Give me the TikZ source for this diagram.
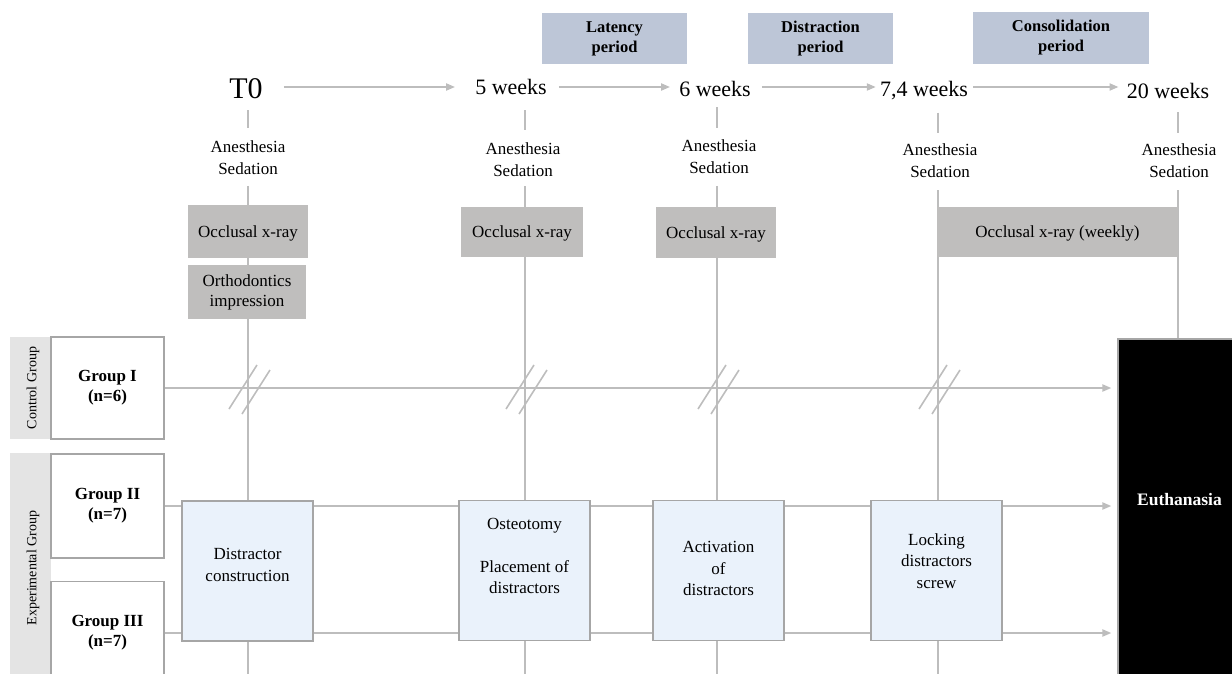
\documentclass[tikz,border=0pt]{standalone}
\usepackage{fontspec}
\setmainfont{Liberation Serif}
\usetikzlibrary{arrows.meta,calc}
\pgfdeclarelayer{bg}
\pgfsetlayers{bg,main}
\definecolor{lnc}{HTML}{BDBDBD}
\definecolor{bdc}{HTML}{A6A6A6}
\definecolor{occc}{HTML}{BFBEBD}
\definecolor{perc}{HTML}{BDC6D7}
\definecolor{actc}{HTML}{EAF2FB}
\definecolor{stc}{HTML}{E4E4E4}
\tikzset{
 ln/.style={draw=lnc, line width=2pt},
 arr/.style={ln, -{Triangle[length=9pt,width=7pt]}},
 anes/.style={inner sep=0pt, font=\fontsize{17}{22}\selectfont, align=center},
 wk/.style={inner sep=0pt, anchor=base, font=\fontsize{22}{26}\selectfont},
 per/.style={fill=perc, draw=none, inner sep=0pt, minimum width=145pt, minimum height=51pt, font=\bfseries\fontsize{16.5}{20}\selectfont, align=center},
 occ/.style={fill=occc, draw=none, inner sep=0pt, minimum height=51pt, font=\fontsize{17}{20}\selectfont, align=center},
 grp/.style={draw=bdc, line width=1.2pt, fill=white, minimum width=113pt, minimum height=102pt, inner sep=0pt, font=\bfseries\fontsize{17}{20}\selectfont, align=center},
 strip/.style={fill=stc, draw=none, minimum width=41pt, inner sep=0pt},
 striptxt/.style={rotate=90, inner sep=0pt, font=\fontsize{14}{16}\selectfont},
 act/.style={draw=bdc, line width=1.2pt, fill=actc, minimum width=131pt, minimum height=140pt, inner sep=0pt, font=\fontsize{17}{21.5}\selectfont, align=center},
 brk/.style={draw=lnc, line width=1.6pt},
}
\begin{document}
\begin{tikzpicture}[x=1pt,y=-1pt]
\useasboundingbox (0,0) rectangle (1232,674);
\clip (0,0) rectangle (1232,674);
% column coordinates
\coordinate (k0) at (248,0);
\coordinate (k1) at (525,0);
\coordinate (k2) at (717,0);
\coordinate (k3) at (938,0);
\coordinate (k4) at (1178,0);
\coordinate (bot) at (0,690);
\coordinate (ya) at (0,87);

% period boxes
\node[per] (lat) at (614.5,38.5) {Latency\\period};
\node[per] (dis) at (820.5,38.5) {Distraction\\period};
\node[per, minimum width=176pt, minimum height=52pt] (con) at (1061,38) {Consolidation\\period};

% time labels
\node[wk, font=\fontsize{30}{34}\selectfont] (t0) at (246,99) {T0};
\node[wk] (w5) at (511,95) {5 weeks};
\node[wk] (w6) at (715,97) {6 weeks};
\node[wk] (w74) at (924,97) {7,4 weeks};
\node[wk] (w20) at (1168,99) {20 weeks};

% anesthesia
\node[anes] (an0) at (248,157.7) {Anesthesia\\Sedation};
\node[anes] (an1) at (523,159.2) {Anesthesia\\Sedation};
\node[anes] (an2) at (719,156.7) {Anesthesia\\Sedation};
\node[anes] (an3) at (940,160.2) {Anesthesia\\Sedation};
\node[anes] (an4) at (1179,160.2) {Anesthesia\\Sedation};

% occlusal boxes
\node[occ, minimum width=120pt, minimum height=53pt, text depth=0pt] (ox0) at (248,231.5) {Occlusal x-ray};
\node[occ, minimum width=118pt, minimum height=54pt] (oi0) at (247,292) {Orthodontics\\impression};
\node[occ, minimum width=122pt, minimum height=50pt, text depth=0pt] (ox1) at (522,232) {Occlusal x-ray};
\node[occ, minimum width=120pt, text depth=0pt] (ox2) at (716,232.5) {Occlusal x-ray};
\node[occ, minimum width=241pt, minimum height=50pt, text depth=0pt] (ox3) at (1057.5,232) {Occlusal x-ray (weekly)};

% group strips and boxes
\node[strip, minimum height=102pt] (cs) at (30.5,388) {};
\node[striptxt] (cst) at (33,388) {Control Group};
\node[strip, minimum height=231pt] (es) at (30.5,568.5) {};
\node[striptxt] (est) at (33,568) {Experimental Group};
\node[grp] (g1) at (107.5,388) {Group I\\(n=6)};
\node[grp, minimum height=104pt] (g2) at (107.5,506) {Group II\\(n=7)};
\node[grp, minimum height=103pt] (g3) at (107.5,633) {Group III\\(n=7)};

% activity boxes
\node[act] (b0) at (247.5,571) {Distractor\\construction\\[-9.5pt]\mbox{}};
\node[act] (b1) at (524.5,570.5) {Osteotomy\\[21.5pt]Placement of\\distractors\\[8pt]\mbox{}};
\node[act] (b2) at (718.5,570.5) {\mbox{}\\[-13.5pt]Activation\\of\\distractors};
\node[act] (b3) at (936.5,570.5) {Locking\\distractors\\screw\\[-2pt]\mbox{}};

% euthanasia
\node[draw=bdc, line width=1.2pt, fill=black, minimum width=122pt, minimum height=351pt, inner sep=0pt] (euth) at (1179,514.5) {};
\node[text=white, font=\bfseries\fontsize{17.5}{20}\selectfont, inner sep=0pt] (eutht) at (1179.5,500) {Euthanasia};

\begin{pgfonlayer}{bg}
% top timeline arrows
\draw[arr, shorten <=21pt, shorten >=20pt] (t0.east |- ya) -- (w5.west |- ya);
\draw[arr, shorten <=12pt, shorten >=9pt] (w5.east |- ya) -- (w6.west |- ya);
\draw[arr, shorten <=11pt, shorten >=4pt] (w6.east |- ya) -- (w74.west |- ya);
\draw[arr, shorten <=5pt, shorten >=8pt] (w74.east |- ya) -- (w20.west |- ya);
% ticks under time labels
\draw[ln, shorten <=11pt, shorten >=13pt] (k0 |- t0.south) -- (k0 |- an0.north);
\draw[ln, shorten <=15pt, shorten >=12pt] (k1 |- w5.south) -- (k1 |- an1.north);
\draw[ln, shorten <=10pt, shorten >=12pt] (k2 |- w6.south) -- (k2 |- an2.north);
\draw[ln, shorten <=12pt, shorten >=10pt] (k3 |- w74.south) -- (k3 |- an3.north);
\draw[ln, shorten <=13pt, shorten >=10pt] (k4 |- w20.south) -- (k4 |- an4.north);
% columns
\draw[ln, shorten <=11pt] (k0 |- an0.south) -- (k0 |- ox0.north);
\draw[ln] (k0 |- ox0.south) -- (k0 |- oi0.north);
\draw[ln] (k0 |- oi0.south) -- (k0 |- bot);
\draw[ln, shorten <=10pt] (k1 |- an1.south) -- (k1 |- ox1.north);
\draw[ln] (k1 |- ox1.south) -- (k1 |- bot);
\draw[ln, shorten <=12pt] (k2 |- an2.south) -- (k2 |- ox2.north);
\draw[ln] (k2 |- ox2.south) -- (k2 |- bot);
\draw[ln, shorten <=13pt] (k3 |- an3.south) -- (k3 |- bot);
\draw[ln, shorten <=13pt] (k4 |- an4.south) -- (k4 |- euth.north);
% group lines
\draw[arr, shorten >=6pt] (g1.east) -- (g1.east -| euth.west);
\draw[arr, shorten >=6pt] (g2.east) -- (g2.east -| euth.west);
\draw[arr, shorten >=6pt] (g3.east) -- (g3.east -| euth.west);
\end{pgfonlayer}

% break marks on control line
\foreach \k in {k0,k1,k2,k3}{
  \coordinate (cx) at (\k |- g1.east);
  \draw[brk] ($(cx)+(-19,21)$) -- ($(cx)+(9,-23)$);
  \draw[brk] ($(cx)+(-6,26)$) -- ($(cx)+(22,-18)$);
}
\end{tikzpicture}
\end{document}
